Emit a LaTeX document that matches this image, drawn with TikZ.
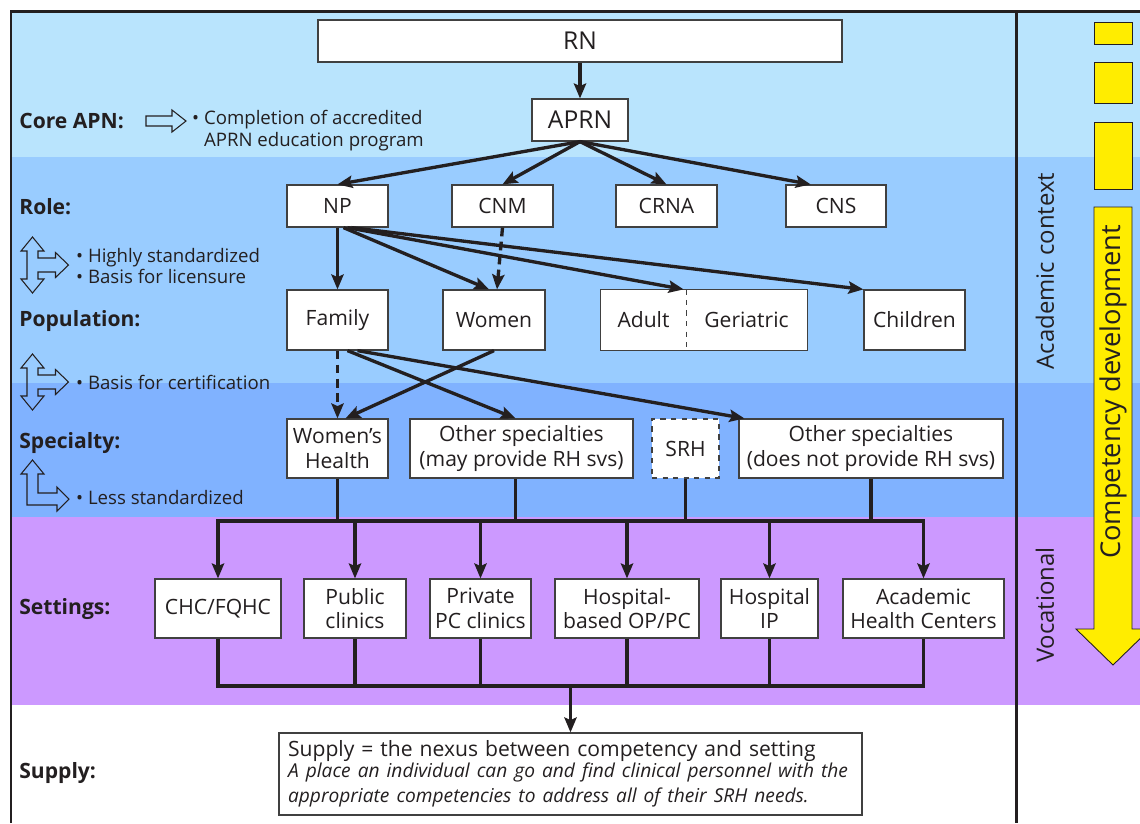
\documentclass[tikz,border=0pt]{standalone}
\usepackage{fontspec}
\setmainfont{Open Sans}
\usepackage{tikz}
\usetikzlibrary{arrows.meta, positioning, calc}

\definecolor{ink}{RGB}{35,31,32}
\definecolor{boxline}{RGB}{64,64,64}
\definecolor{bandA}{RGB}{185,228,253}
\definecolor{bandB}{RGB}{153,204,255}
\definecolor{bandC}{RGB}{128,178,255}
\definecolor{bandD}{RGB}{204,153,255}
\definecolor{yel}{RGB}{255,237,0}

\begin{document}
\begin{tikzpicture}[x=0.02cm,y=-0.02cm]
    \tikzstyle{every node} = [font=\fontsize{12}{14}\selectfont, text=ink]
    \tikzstyle{box} = [draw=boxline, fill=white, line width=0.7pt, align=center, inner sep=1pt]
    \tikzstyle{conn} = [line width=1.9pt, draw=ink]
    \tikzstyle{arr} = [conn, -{Stealth[length=8.5pt,width=7pt,inset=1.5pt]}]
    \tikzstyle{rowlabel} = [anchor=west, inner xsep=0pt, font=\fontsize{12}{14}\selectfont\bfseries]
    \tikzstyle{bullets} = [anchor=west, align=left, font=\fontsize{10.6}{12.5}\selectfont]
    \tikzstyle{hollow} = [draw=ink, line width=0.6pt]
    \useasboundingbox (0,0) rectangle (1140,823);
    % bands
    \fill[bandA] (11,11) rectangle (1140,157);
    \fill[bandB] (11,157) rectangle (1140,383);
    \fill[bandC] (11,383) rectangle (1140,517);
    \fill[bandD] (11,517) rectangle (1140,705);
    \draw[ink, line width=1.7pt] (11,823) -- (11,11) -- (1140,11);
    \draw[ink, line width=1.7pt] (1016,11) -- (1016,823);
    % row labels
    \node[rowlabel] (lcore) at (19,121) {Core APN:};
    \node[rowlabel] (lrole) at (19,207) {Role:};
    \node[rowlabel] (lpop) at (19,321) {Population:};
    \node[rowlabel] (lspec) at (19,443) {Specialty:};
    \node[rowlabel] (lset) at (19,609) {Settings:};
    \node[rowlabel] (lsup) at (19,773) {Supply:};
    % hollow arrows
    \draw[hollow] (146,116) -- (172,116) -- (172,110) -- (186,121) -- (172,132) -- (172,126) -- (146,126) -- cycle;
    \foreach \cy in {265,382}{
      \draw[hollow, shift={(32.5,\cy)}] (0,-28) -- (11.5,-14) -- (5.5,-14) -- (5.5,-7) -- (23,-7) -- (23,-12.5)
        -- (36,0) -- (23,12.5) -- (23,7) -- (5.5,7) -- (5.5,14) -- (11.5,14) -- (0,28) -- (-11.5,14)
        -- (-5.5,14) -- (-5.5,-14) -- (-11.5,-14) -- cycle;
    }
    \draw[hollow] (32.5,460) -- (44,474) -- (38,474) -- (38,493) -- (57,493) -- (57,487) -- (69,499)
      -- (57,511) -- (57,505) -- (27,505) -- (27,474) -- (21,474) -- cycle;
    % bullet texts
    \node[bullets] (bcore) at (186,131) {\textbullet\ Completion of accredited\\\hphantom{\textbullet\ }APRN education program};
    \node[bullets] (brole) at (70,266) {\textbullet\ Highly standardized\\\textbullet\ Basis for licensure};
    \node[bullets] (bpop) at (70,382) {\textbullet\ Basis for certification};
    \node[bullets] (bspec) at (70,498) {\textbullet\ Less standardized};
    % place nodes
    \node[box, minimum width=10.48cm, minimum height=0.84cm, font=\fontsize{14}{16}\selectfont] (rn) at (580,41) {RN};
    \node[box, minimum width=1.92cm, minimum height=0.84cm, font=\fontsize{14}{16}\selectfont] (aprn) at (580,120) {APRN};
    \node[box, minimum width=2.02cm, minimum height=0.84cm] (np) at (337.5,206) {NP};
    \node[box, minimum width=2.02cm, minimum height=0.84cm] (cnm) at (502.5,206) {CNM};
    \node[box, minimum width=2.02cm, minimum height=0.84cm] (crna) at (666.5,206) {CRNA};
    \node[box, minimum width=2.0cm, minimum height=0.84cm] (cns) at (836,206) {CNS};
    \node[box, minimum width=2.02cm, minimum height=1.2cm] (family) at (337.5,320) {Family};
    \node[box, minimum width=2.04cm, minimum height=1.2cm] (women) at (494,320) {Women};
    \node[box, draw=none, minimum width=1.7cm, minimum height=1.2cm] (adult) at (643.5,320) {Adult};
    \node[box, draw=none, minimum width=2.42cm, minimum height=1.2cm] (geri) at (746.5,320) {Geriatric};
    \draw[boxline, line width=0.7pt] (adult.north west) rectangle (geri.south east);
    \draw[boxline, line width=0.7pt, dashed] (adult.north east) -- (adult.south east);
    \node[box, minimum width=2.02cm, minimum height=1.2cm] (children) at (914.5,320) {Children};
    \node[box, minimum width=2.02cm, minimum height=1.18cm] (wh) at (337.5,448.5) {Women’s\\Health};
    \node[box, minimum width=4.46cm, minimum height=1.18cm] (os1) at (521.5,448.5) {Other specialties\\(may provide RH svs)};
    \node[box, dashed, minimum width=1.34cm, minimum height=1.18cm] (srh) at (685.5,448.5) {SRH};
    \node[box, minimum width=5.28cm, minimum height=1.18cm] (os2) at (871,448.5) {Other specialties\\(does not provide RH svs)};
    \node[box, minimum width=2.52cm, minimum height=1.18cm] (chc) at (218,608.5) {CHC/FQHC};
    \node[box, minimum width=2.04cm, minimum height=1.18cm] (pub) at (355,608.5) {Public\\clinics};
    \node[box, minimum width=2.02cm, minimum height=1.18cm] (priv) at (480.5,608.5) {Private\\PC clinics};
    \node[box, minimum width=2.88cm, minimum height=1.18cm] (hop) at (627,608.5) {Hospital-\\based OP/PC};
    \node[box, minimum width=1.94cm, minimum height=1.18cm] (hip) at (769.5,608.5) {Hospital\\IP};
    \node[box, minimum width=3.22cm, minimum height=1.18cm] (ahc) at (923.5,608.5) {Academic\\Health Centers};
    \node[box, align=left, text width=11.3cm, inner xsep=0.18cm, minimum height=1.64cm] (supply) at (570.5,774)
      {Supply = the nexus between competency and setting\\[-1pt]
       {\fontsize{10.9}{13}\selectfont\itshape A place an individual can go and find clinical personnel with the\\
       appropriate competencies to address all of their SRH needs.}};
    % right column
    \node[rotate=90, font=\fontsize{13.6}{15}\selectfont] (acad) at (1045,271) {Academic context};
    \node[rotate=90, font=\fontsize{13.6}{15}\selectfont] (voc) at (1045,605) {Vocational};
    \filldraw[fill=yel, draw=ink, line width=0.5pt] (1094,22) rectangle (1132,44);
    \filldraw[fill=yel, draw=ink, line width=0.5pt] (1094,62) rectangle (1132,103);
    \filldraw[fill=yel, draw=ink, line width=0.5pt] (1094,122) rectangle (1132,189);
    \filldraw[fill=yel, draw=ink, line width=0.5pt] (1094,207) -- (1132,207) -- (1132,629) -- (1150,629)
      -- (1113,665) -- (1076,629) -- (1094,629) -- cycle;
    \node[rotate=90, font=\fontsize{15.5}{17}\selectfont] (comp) at (1113,392) {Competency development};
    % Connections
    \draw[arr] (rn.south) -- (aprn.north);
    \draw[arr] (aprn.south) -- (np.north);
    \draw[arr] (aprn.south) -- (cnm.north);
    \draw[arr] (aprn.south) -- (crna.north);
    \draw[arr] (aprn.south) -- ($(cns.north west)!0.25!(cns.north east)$);
    \draw[arr] (np.south) -- (family.north);
    \draw[arr] ($(np.south)+(6,0)$) -- ($(women.north)+(-5,0)$);
    \draw[arr] ($(np.south)+(10,0)$) -- ($(adult.north east)+(-3,0)$);
    \draw[arr] ($(np.south)+(14,0)$) -- (children.north west);
    \draw[arr, dash pattern=on 5pt off 3pt] (cnm.south) -- ($(women.north)+(3,0)$);
    \draw[arr, dash pattern=on 5pt off 3pt] (family.south) -- (wh.north);
    \draw[arr] ($(family.south)+(10,0)$) -- ($(os1.north)+(-6,0)$);
    \draw[arr] ($(family.south)+(20,0)$) -- ($(os2.north west)+(6,0)$);
    \draw[arr] (women.south) -- ($(wh.north)+(8,0)$);
    % bus lines
    \coordinate (bustop) at (0,521);
    \coordinate (busbot) at (0,686);
    \foreach \n in {wh,srh,os2}
      \draw[conn] (\n.south) -- (\n.south |- bustop);
    \draw[conn] ($(os1.south)+(-6,0)$) -- ($(os1.south |- bustop)+(-6,0)$);
    \draw[conn, line cap=rect] (chc.north |- bustop) -- (ahc.north |- bustop);
    \foreach \n in {chc,pub,priv,hop,hip,ahc}{
      \draw[arr] (\n.north |- bustop) -- (\n.north);
      \draw[conn] (\n.south) -- (\n.south |- busbot);
    }
    \draw[conn, line cap=rect] (chc.south |- busbot) -- (ahc.south |- busbot);
    \draw[arr] (supply.north |- busbot) -- (supply.north);
\end{tikzpicture}
\end{document}
